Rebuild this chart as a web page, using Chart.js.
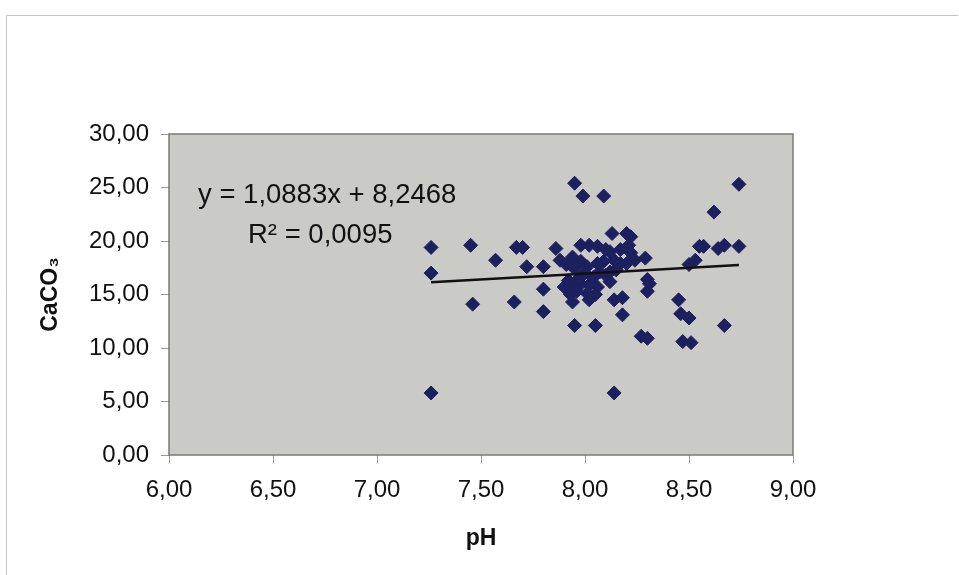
<!DOCTYPE html>
<html>
<head>
<meta charset="utf-8">
<script src="https://cdn.jsdelivr.net/npm/chart.js@4.4.0/dist/chart.umd.min.js"></script>
<style>
  html, body { margin: 0; padding: 0; background: #fff; }
  #wrap { width: 959px; height: 575px; position: relative; }
</style>
</head>
<body>
<div id="wrap"><canvas id="chart" width="959" height="575"></canvas></div>
<script>
    // pH / CaCO3 pairs
    const phValues = [
      7.26, 7.26, 7.26, 7.45, 7.46, 7.57, 7.66, 7.67, 7.70, 7.72,
      7.80, 7.80, 7.80, 7.86, 7.88, 7.91, 7.94, 7.95, 7.98, 7.90,
      7.94, 7.98, 8.02, 8.06, 7.93, 7.96, 8.01, 8.05, 7.94, 8.02,
      7.95, 8.05, 7.95, 7.99, 8.09, 7.98, 8.02, 8.06, 8.10, 8.12,
      8.13, 8.20, 8.22, 8.17, 8.21, 8.22, 8.24, 8.29, 8.01, 8.06,
      8.09, 8.14, 8.17, 8.20, 8.07, 8.12, 8.15, 8.30, 8.31, 8.30,
      8.12, 8.14, 8.18, 8.18, 8.14, 8.27, 8.30, 8.45, 8.46, 8.50,
      8.47, 8.51, 8.53, 8.50, 8.55, 8.57, 8.64, 8.67, 8.74, 8.62,
      8.74, 8.67, 7.97, 8.04, 8.10, 7.92, 8.00
    ];
    const caco3Values = [
      19.4, 17.0, 5.8, 19.6, 14.1, 18.2, 14.3, 19.4, 19.4, 17.6,
      17.6, 15.5, 13.4, 19.3, 18.2, 17.8, 18.5, 17.4, 18.1, 15.7,
      15.9, 16.0, 15.9, 15.7, 15.0, 15.3, 15.1, 15.0, 14.3, 14.5,
      12.1, 12.1, 25.4, 24.2, 24.2, 19.6, 19.6, 19.5, 19.2, 19.0,
      20.7, 20.7, 20.4, 19.2, 19.6, 18.9, 18.2, 18.4, 17.6, 17.9,
      18.1, 18.2, 17.9, 17.9, 17.1, 17.1, 17.3, 16.4, 16.0, 15.3,
      16.2, 14.5, 14.7, 13.1, 5.8, 11.1, 10.9, 14.5, 13.2, 12.8,
      10.6, 10.5, 18.2, 17.8, 19.5, 19.5, 19.3, 19.6, 19.5, 22.7,
      25.3, 12.1, 16.5, 16.6, 16.8, 16.3, 17.0
    ];

    // linear trend as printed on the chart
    const trendSlope = 1.0883;
    const trendIntercept = 8.2468;
    const trendX = [7.26, 8.74];
    const equationLines = ['y = 1,0883x + 8,2468', 'R\u00B2 = 0,0095'];

    const xTicks = [6, 6.5, 7, 7.5, 8, 8.5, 9];
    const yTicks = [0, 5, 10, 15, 20, 25, 30];

    const points = phValues.map((x, i) => ({ x: x, y: caco3Values[i] }));
    const trendPoints = trendX.map(x => ({ x: x, y: trendSlope * x + trendIntercept }));

    const fmt = v => v.toFixed(2).replace('.', ',');
    const FONT = '"Liberation Sans", Arial, sans-serif';

    const framePlugin = {
      id: 'frame',
      beforeDraw(chart) {
        const ctx = chart.ctx;
        const a = chart.chartArea;
        ctx.save();
        // outer sheet border
        ctx.strokeStyle = '#c4c4c4';
        ctx.lineWidth = 1;
        ctx.beginPath();
        ctx.moveTo(6.5, 575);
        ctx.lineTo(6.5, 15.5);
        ctx.lineTo(958, 15.5);
        ctx.stroke();
        // plot area
        ctx.fillStyle = '#cacac7';
        ctx.fillRect(a.left, a.top, a.right - a.left, a.bottom - a.top);
        ctx.restore();
      },
      afterDatasetsDraw(chart) {
        const ctx = chart.ctx;
        const a = chart.chartArea;
        ctx.save();
        ctx.strokeStyle = '#7a7a7a';
        ctx.lineWidth = 1.5;
        ctx.strokeRect(a.left, a.top, a.right - a.left, a.bottom - a.top);
        ctx.fillStyle = '#111';
        ctx.font = '27.5px ' + FONT;
        ctx.textBaseline = 'alphabetic';
        ctx.fillText(equationLines[0], 198, 203);
        ctx.fillText(equationLines[1], 248, 243);
        ctx.restore();
      }
    };

    const ctx = document.getElementById('chart').getContext('2d');
    const chart = new Chart(ctx, {
      type: 'scatter',
      data: {
        datasets: [{
          label: 'CaCO3',
          data: points,
          pointStyle: 'rectRot',
          pointRadius: 7,
          pointHoverRadius: 7,
          backgroundColor: '#1d205f',
          borderColor: '#1d205f',
          borderWidth: 1,
          order: 2
        }, {
          type: 'line',
          label: 'trend',
          data: trendPoints,
          borderColor: '#111',
          borderWidth: 2.5,
          pointRadius: 0,
          fill: false,
          order: 1
        }]
      },
      options: {
        responsive: false,
        animation: false,
        layout: { padding: { top: 134, right: 166, left: 0, bottom: 0 } },
        plugins: {
          legend: { display: false },
          tooltip: { enabled: false }
        },
        scales: {
          x: {
            type: 'linear',
            min: 6,
            max: 9,
            afterBuildTicks: scale => { scale.ticks = xTicks.map(v => ({ value: v })); },
            afterFit: scale => { scale.height = 120; },
            grid: { drawOnChartArea: false, drawTicks: true, tickLength: 8, color: '#9a9a9a' },
            border: { display: false },
            ticks: {
              padding: 13,
              color: '#111',
              font: { family: FONT, size: 24 },
              callback: v => fmt(v)
            },
            title: {
              display: true,
              text: 'pH',
              color: '#111',
              font: { family: FONT, size: 23, weight: 'bold' },
              padding: { top: 0, bottom: 23 }
            }
          },
          y: {
            type: 'linear',
            min: 0,
            max: 30,
            afterBuildTicks: scale => { scale.ticks = yTicks.map(v => ({ value: v })); },
            afterFit: scale => { scale.width = 169; },
            grid: { drawOnChartArea: false, drawTicks: true, tickLength: 8, color: '#9a9a9a' },
            border: { display: false },
            ticks: {
              padding: 12,
              color: '#111',
              font: { family: FONT, size: 24 },
              callback: v => fmt(v)
            },
            title: {
              display: true,
              text: 'CaCO\u2083',
              color: '#111',
              font: { family: FONT, size: 23, weight: 'bold' },
              padding: { top: 37, bottom: 0 }
            }
          }
        }
      },
      plugins: [framePlugin]
    });
</script>
</body>
</html>
